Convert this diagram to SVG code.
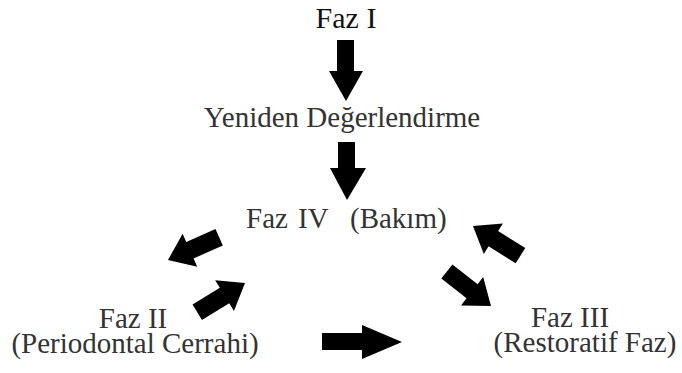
<svg xmlns="http://www.w3.org/2000/svg" xmlns:xlink="http://www.w3.org/1999/xlink" width="682" height="373" viewBox="0 0 682 373">
  <style>
    .lbl { font-family: "Liberation Serif", "Times New Roman", serif; font-size: 29px; fill: #333; }
    .top { fill: #111; font-size: 30px; }
    .arr { fill: #000; }
  </style>
  <defs>
    <!-- short block arrow pointing along +x, tip at the origin -->
    <polygon id="blk" points="-56,-9 -24,-9 -24,-18 0,0 -24,18 -24,9 -56,9"/>
  </defs>
  <rect width="682" height="373" fill="#fff"/>

  <g id="faz1">
    <text class="lbl top" x="346" y="28" text-anchor="middle">Faz I</text>
  </g>
  <g id="yeniden">
    <text class="lbl" x="342" y="127" text-anchor="middle">Yeniden Değerlendirme</text>
  </g>
  <g id="faz4">
    <text class="lbl" x="246" y="228">Faz</text>
    <text class="lbl" x="298" y="228">IV</text>
    <text class="lbl" x="350" y="228">(Bakım)</text>
  </g>
  <g id="faz2">
    <text class="lbl" x="133" y="328" text-anchor="middle">Faz II</text>
    <text class="lbl" x="135" y="353" text-anchor="middle">(Periodontal Cerrahi)</text>
  </g>
  <g id="faz3">
    <text class="lbl" x="570" y="327" text-anchor="middle">Faz III</text>
    <text class="lbl" x="585" y="352" text-anchor="middle">(Restoratif Faz)</text>
  </g>

  <g id="connectors" class="arr">
    <polygon points="337,40 354,40 354,71 363,71 346,101 329,71 337,71"/>
    <polygon points="338,142 355,142 355,168 366,168 347,200 330,168 338,168"/>
    <polygon points="322,333 362,333 362,325 402,342 362,359 362,350 322,350"/>
    <use xlink:href="#blk" transform="translate(168,260) rotate(156)"/>
    <use xlink:href="#blk" transform="translate(245,283) rotate(-31.5)"/>
    <use xlink:href="#blk" transform="translate(473,226) rotate(-148)"/>
    <use xlink:href="#blk" transform="translate(491,306) rotate(38)"/>
  </g>
</svg>
